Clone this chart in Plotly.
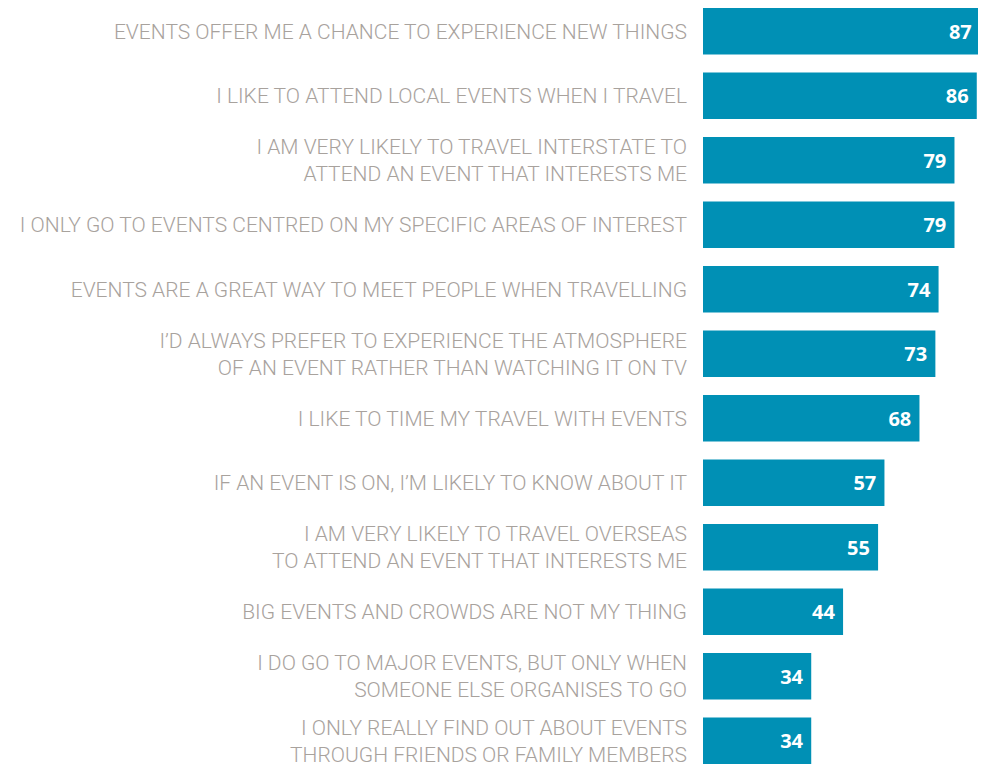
import plotly.graph_objects as go

statements = [
    "EVENTS OFFER ME A CHANCE TO EXPERIENCE NEW THINGS",
    "I LIKE TO ATTEND LOCAL EVENTS WHEN I TRAVEL",
    "I AM VERY LIKELY TO TRAVEL INTERSTATE TO<br>ATTEND AN EVENT THAT INTERESTS ME",
    "I ONLY GO TO EVENTS CENTRED ON MY SPECIFIC AREAS OF INTEREST",
    "EVENTS ARE A GREAT WAY TO MEET PEOPLE WHEN TRAVELLING",
    "I\u2019D ALWAYS PREFER TO EXPERIENCE THE ATMOSPHERE<br>OF AN EVENT RATHER THAN WATCHING IT ON TV",
    "I LIKE TO TIME MY TRAVEL WITH EVENTS",
    "IF AN EVENT IS ON, I\u2019M LIKELY TO KNOW ABOUT IT",
    "I AM VERY LIKELY TO TRAVEL OVERSEAS<br>TO ATTEND AN EVENT THAT INTERESTS ME",
    "BIG EVENTS AND CROWDS ARE NOT MY THING",
    "I DO GO TO MAJOR EVENTS, BUT ONLY WHEN<br>SOMEONE ELSE ORGANISES TO GO",
    "I ONLY REALLY FIND OUT ABOUT EVENTS<br>THROUGH FRIENDS OR FAMILY MEMBERS",
]
agree = [87, 86, 79, 79, 74, 73, 68, 57, 55, 44, 34, 34]

fig = go.Figure()

fig.add_trace(go.Bar(
    x=agree,
    y=statements,
    orientation='h',
    marker=dict(color='#0090b5', line=dict(width=0)),
    texttemplate='%{x}&nbsp;',
    textposition='inside',
    insidetextanchor='end',
    textfont=dict(family="Open Sans", size=20, color="white", weight="bold"),
    hoverinfo='skip'
))

# page body has an 8px margin, so the figure is sized to the rest of the window
fig.update_layout(
    width=978,
    height=758,
    paper_bgcolor="white",
    plot_bgcolor="white",
    margin=dict(l=695, r=0, t=0, b=0),
    bargap=0.28,
    showlegend=False,
    xaxis=dict(
        range=[0, 88.9],
        showgrid=False,
        showticklabels=False,
        zeroline=False,
        showline=False,
        ticks=''
    ),
    yaxis=dict(
        type='category',
        range=[11.39, -0.361],
        showgrid=False,
        zeroline=False,
        showline=False,
        ticks='',
        ticklabelstandoff=15,
        tickfont=dict(family="Roboto", size=21, color="#a8a29d", weight=300)
    )
)

fig.write_html("out.html")
